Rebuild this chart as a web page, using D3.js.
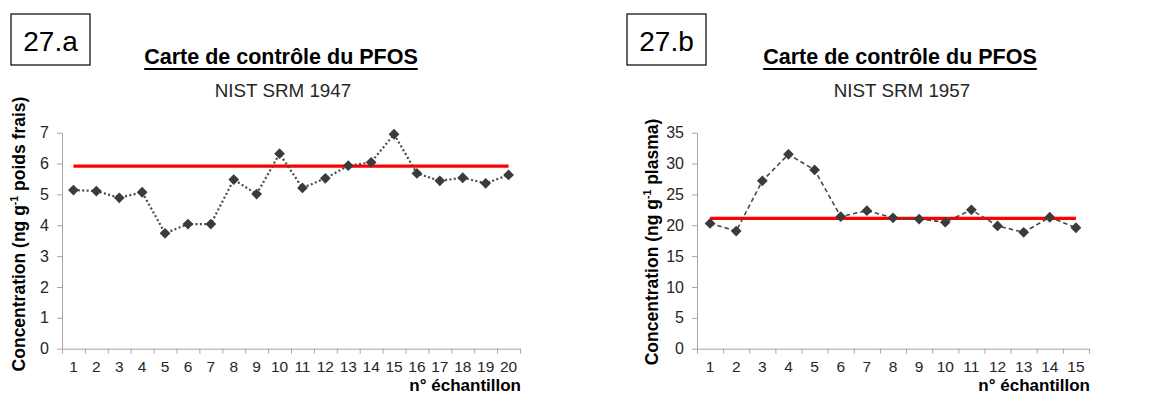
<!DOCTYPE html>
<html><head><meta charset="utf-8">
<script src="https://cdn.jsdelivr.net/npm/d3@7"></script>
<style>
body{margin:0;background:#fff;}
svg text{font-family:"Liberation Sans",Arial,sans-serif;}
</style></head>
<body><svg id="c" width="1154" height="405"></svg>
<script>
// ---- data ----
const samplesA = d3.range(1, 21);
const valuesA = [5.14, 5.11, 4.89, 5.07, 3.74, 4.04, 4.04, 5.48, 5.01, 6.32, 5.21, 5.52, 5.93, 6.04, 6.95, 5.68, 5.44, 5.54, 5.36, 5.63];
const meanA = 5.92;
const yTicksA = [0, 1, 2, 3, 4, 5, 6, 7];

const samplesB = d3.range(1, 16);
const valuesB = [20.3, 19.07, 27.2, 31.5, 28.96, 21.4, 22.37, 21.2, 21.0, 20.5, 22.5, 19.9, 18.86, 21.3, 19.6];
const meanB = 21.13;
const yTicksB = [0, 5, 10, 15, 20, 25, 30, 35];

const svg = d3.select("#c");

function panel(o) {
  const g = svg.append("g");
  const x = d3.scaleBand().domain(o.cats).range([o.x0, o.x1]);
  const xl = d3.scaleLinear().domain([0, o.cats.length]).range([o.x0, o.x1]);
  const y = d3.scaleLinear().domain([0, o.ymax]).range([o.yb, o.yt]);

  // y axis
  const ya = g.append("g").attr("transform", `translate(${o.x0},0)`)
    .call(d3.axisLeft(y).tickValues(o.yticks).tickFormat(d3.format("d")).tickSize(5).tickPadding(8).tickSizeOuter(0));
  ya.select(".domain").attr("stroke", "#a6a6a6");
  ya.selectAll(".tick line").attr("stroke", "#a6a6a6");
  ya.selectAll(".tick text").attr("font-size", 16).attr("fill", "#262626");

  // x axis: tick marks at band edges
  const xa = g.append("g").attr("transform", `translate(0,${o.yb})`)
    .call(d3.axisBottom(xl).tickValues(d3.range(0, o.cats.length + 1)).tickSize(5).tickFormat("").tickSizeOuter(0));
  xa.select(".domain").attr("stroke", "#a6a6a6");
  xa.selectAll(".tick line").attr("stroke", "#a6a6a6");
  // x labels at centers
  const xb = g.append("g").attr("transform", `translate(0,${o.yb})`)
    .call(d3.axisBottom(x).tickSize(0).tickPadding(12));
  xb.select(".domain").remove();
  xb.selectAll(".tick text").attr("font-size", 15.5).attr("fill", "#262626");

  // mean line
  g.append("line")
    .attr("x1", x(o.cats[0]) + x.bandwidth() / 2)
    .attr("x2", x(o.cats[o.cats.length - 1]) + x.bandwidth() / 2)
    .attr("y1", y(o.mean)).attr("y2", y(o.mean))
    .attr("stroke", "#ff0000").attr("stroke-width", 3.2);

  // series line
  const line = d3.line().x((d, i) => x(o.cats[i]) + x.bandwidth() / 2).y(d => y(d));
  g.append("path").datum(o.vals).attr("d", line).attr("fill", "none")
    .attr("stroke", "#4a4a4a").attr("stroke-width", o.lw).attr("stroke-dasharray", o.dash);

  // markers
  g.selectAll(".m").data(o.vals).enter().append("path")
    .attr("d", d3.symbol(d3.symbolSquare, 58))
    .attr("transform", (d, i) => `translate(${x(o.cats[i]) + x.bandwidth() / 2},${y(d)}) rotate(45)`)
    .attr("fill", "#3b3b3b");

  // titles
  const t = g.append("text").attr("x", o.tx).attr("y", 63.5).attr("text-anchor", "middle")
    .attr("font-size", 21.5).attr("font-weight", "bold").attr("fill", "#000").text("Carte de contrôle du PFOS");
  const w = t.node().getComputedTextLength();
  g.append("line").attr("x1", o.tx - w / 2).attr("x2", o.tx + w / 2).attr("y1", 69).attr("y2", 69)
    .attr("stroke", "#000").attr("stroke-width", 1.8);
  g.append("text").attr("x", o.tx + 2).attr("y", 97).attr("text-anchor", "middle")
    .attr("font-size", 18.8).attr("fill", "#262626").text(o.sub);

  // label box
  g.append("rect").attr("x", o.bx).attr("y", 14).attr("width", 79).attr("height", 51)
    .attr("fill", "none").attr("stroke", "#000").attr("stroke-width", 1.2);
  g.append("text").attr("x", o.bx + 39.5).attr("y", 51).attr("text-anchor", "middle")
    .attr("font-size", 28).attr("fill", "#000").text(o.box);

  // x title
  g.append("text").attr("x", o.x1 + 1).attr("y", 391).attr("text-anchor", "end")
    .attr("font-size", 17).attr("font-weight", "bold").attr("fill", "#000").text("n° échantillon");

  // y title
  const yt = g.append("text").attr("transform", `translate(${o.ytx},${o.yty}) rotate(-90)`)
    .attr("text-anchor", "middle").attr("font-size", 17.5).attr("font-weight", "bold").attr("fill", "#000");
  yt.append("tspan").text("Concentration (ng g");
  yt.append("tspan").attr("font-size", 10.5).attr("dy", -7).text("-1");
  yt.append("tspan").attr("dy", 7).text(" " + o.unit + ")");
}

panel({cats: samplesA, vals: valuesA, mean: meanA, ymax: 7, yticks: yTicksA,
  x0: 62, x1: 520, yb: 348.7, yt: 132.7, lw: 2.2, dash: "2,2.4",
  tx: 281, sub: "NIST SRM 1947", bx: 11, box: "27.a", ytx: 25, yty: 234, unit: "poids frais"});

panel({cats: samplesB, vals: valuesB, mean: meanB, ymax: 35, yticks: yTicksB,
  x0: 697, x1: 1089, yb: 348.7, yt: 132.7, lw: 1.6, dash: "4.5,3",
  tx: 900, sub: "NIST SRM 1957", bx: 627, box: "27.b", ytx: 658, yty: 242, unit: "plasma"});
</script></body></html>
